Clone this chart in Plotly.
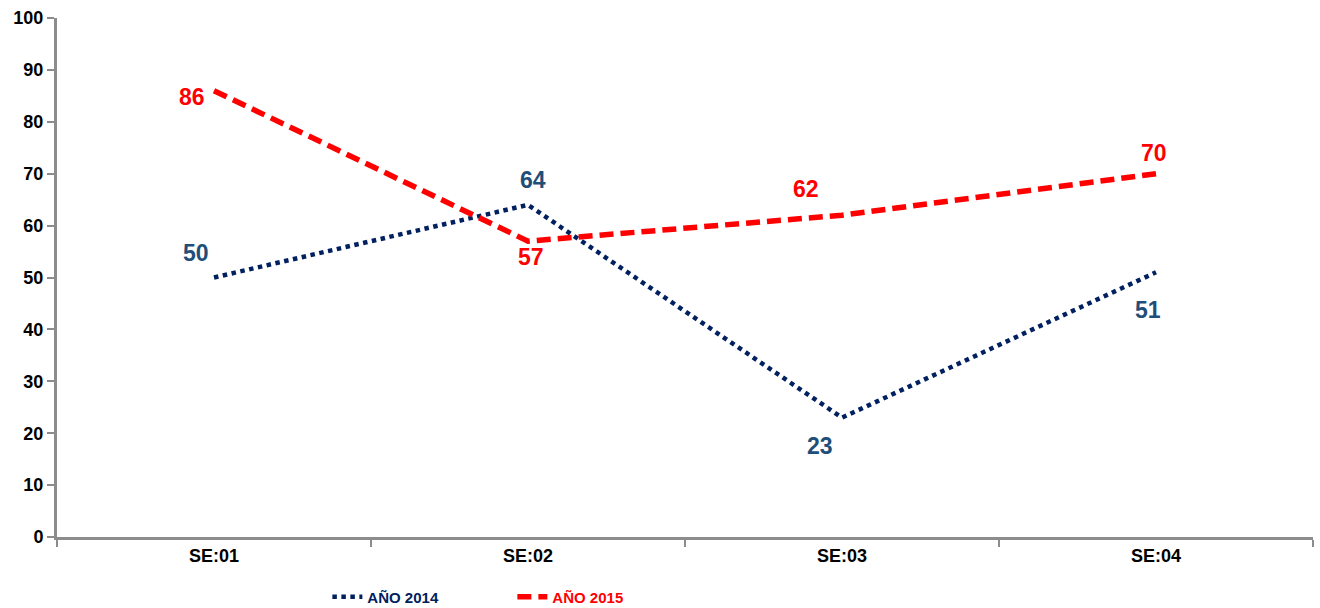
import plotly.graph_objects as go

semanas = ["SE:01", "SE:02", "SE:03", "SE:04"]
casos_2014 = [50, 64, 23, 51]
casos_2015 = [86, 57, 62, 70]
y_ticks = [0, 10, 20, 30, 40, 50, 60, 70, 80, 90, 100]

NAVY = "#002060"
LABEL_BLUE = "#1F4E79"
RED = "#FF0000"
AXIS_GRAY = "#8C8C8C"
FONT = "Liberation Sans, Arial, sans-serif"

fig = go.Figure()
fig.add_trace(go.Scatter(
    x=semanas, y=casos_2014, mode="lines", name="<b>AÑO 2014</b>",
    line=dict(color=NAVY, width=4.5, dash="dot"),
))
fig.add_trace(go.Scatter(
    x=semanas, y=casos_2015, mode="lines",
    name="<span style='color:#FF0000'><b>AÑO 2015</b></span>",
    line=dict(color=RED, width=5.5, dash="14px,7px"),
))

# value labels: offsets (px) per point
offsets_2014 = [(-18, 25), (5, 25), (-22, -28), (-8, -38)]
offsets_2015 = [(-22, -6), (3, -16), (-36, 26), (-2, 21)]
for vals, offs, col in ((casos_2014, offsets_2014, LABEL_BLUE),
                        (casos_2015, offsets_2015, RED)):
    for cat, v, (dx, dy) in zip(semanas, vals, offs):
        fig.add_annotation(
            x=cat, y=v, text=f"<b>{v}</b>", showarrow=False,
            xshift=dx, yshift=dy,
            font=dict(family=FONT, size=23, color=col),
        )

fig.update_layout(
    width=1320, height=608,
    margin=dict(l=57, r=7, t=18, b=71),
    plot_bgcolor="white", paper_bgcolor="white",
    font=dict(family=FONT, size=18, color="black"),
    showlegend=True,
    legend=dict(
        orientation="h",
        xref="container", x=0.248, xanchor="left",
        yref="container", y=0.018, yanchor="middle",
        font=dict(family=FONT, size=15, color=NAVY),
        entrywidth=140, entrywidthmode="pixels",
        bgcolor="rgba(0,0,0,0)",
    ),
)
fig.update_xaxes(
    type="category", range=[-0.5, 3.5],
    showline=True, linecolor=AXIS_GRAY, linewidth=3,
    ticks="outside", tickson="boundaries", ticklen=7, tickwidth=2, tickcolor=AXIS_GRAY,
    showgrid=False, zeroline=False,
    tickvals=semanas, ticktext=[f"<b>{s}</b>" for s in semanas],
    tickfont=dict(family=FONT, size=18, color="black"),
)
fig.update_yaxes(
    range=[0, 100], tickvals=y_ticks, ticktext=[f"<b>{t}</b>" for t in y_ticks],
    showline=True, linecolor=AXIS_GRAY, linewidth=3,
    ticks="outside", ticklen=7, tickwidth=2, tickcolor=AXIS_GRAY,
    showgrid=False, zeroline=False,
    tickfont=dict(family=FONT, size=18, color="black"),
)

fig.write_html("out.html")
